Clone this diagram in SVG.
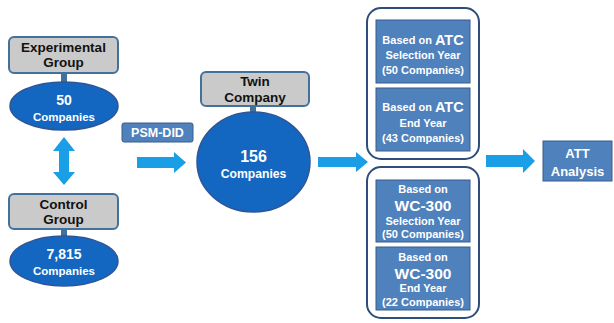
<svg xmlns="http://www.w3.org/2000/svg" width="614" height="323" viewBox="0 0 614 323">
<style>
text{font-family:"Liberation Sans",Arial,sans-serif;font-weight:bold;text-anchor:middle;dominant-baseline:central}
.gray{fill:#cacaca;stroke:#41719c;stroke-width:2}
.stub{fill:#41719c}
.ell{fill:#1467c0;stroke:#2f5597;stroke-width:1.5}
.cont{fill:#fff;stroke:#2e4d7b;stroke-width:2}
.box{fill:#4f81bd;stroke:#385d8a;stroke-width:1}
.arr{fill:#1a9fe6}
.dk{fill:#111}
.wt{fill:#fff}
</style>
<rect width="614" height="323" fill="#fff"/>
<g id="connectors">
<polygon class="arr" points="64,137 75,151 69,151 69,172 75,172 64,185 53,172 59,172 59,151 53,151"/>
<polygon class="arr" points="137,157 174,157 174,152 186,162.5 174,173 174,168 137,168"/>
<polygon class="arr" points="318,157 356,157 356,152 368,162 356,172 356,167 318,167"/>
<polygon class="arr" points="486,155 523,155 523,149 535,161 523,173 523,167 486,167"/>
</g>
<g id="experimental">
<rect class="stub" x="61" y="72" width="6" height="12"/>
<rect class="gray" x="9" y="37" width="109" height="36" rx="5"/>
<text class="dk" x="63.5" y="47.3" font-size="13.5">Experimental</text>
<text class="dk" x="63.5" y="62.8" font-size="13.5">Group</text>
<ellipse class="ell" cx="64" cy="106" rx="54" ry="24"/>
<text class="wt" x="64" y="100" font-size="14">50</text>
<text class="wt" x="64" y="117" font-size="11.5">Companies</text>
</g>
<g id="control">
<rect class="stub" x="61" y="228" width="6" height="10"/>
<rect class="gray" x="9" y="194" width="109" height="35" rx="5"/>
<text class="dk" x="63.5" y="204" font-size="13.5">Control</text>
<text class="dk" x="63.5" y="219.5" font-size="13.5">Group</text>
<ellipse class="ell" cx="64" cy="261" rx="54" ry="25"/>
<text class="wt" x="64" y="254" font-size="14">7,815</text>
<text class="wt" x="64" y="271" font-size="11.5">Companies</text>
</g>
<g id="psm">
<rect class="box" x="122" y="123" width="71" height="19" rx="2"/>
<text class="wt" x="157.5" y="132.5" font-size="12.5">PSM-DID</text>
</g>
<g id="twin">
<rect class="stub" x="250" y="105" width="6" height="10"/>
<rect class="gray" x="201" y="72" width="108" height="34" rx="5"/>
<text class="dk" x="255" y="81.5" font-size="13.5">Twin</text>
<text class="dk" x="255" y="97" font-size="13.5">Company</text>
<ellipse class="ell" cx="253.5" cy="162" rx="56.5" ry="50"/>
<text class="wt" x="253.5" y="156" font-size="16">156</text>
<text class="wt" x="253.5" y="174" font-size="12.2">Companies</text>
</g>
<g id="atc">
<rect class="cont" x="367" y="8" width="112" height="151" rx="14"/>
<rect class="box" x="376" y="20" width="94" height="63"/>
<text class="wt" x="423" y="40" font-size="11">Based on <tspan font-size="14.5">ATC</tspan></text>
<text class="wt" x="423" y="55" font-size="11">Selection Year</text>
<text class="wt" x="423" y="70" font-size="11">(50 Companies)</text>
<rect class="box" x="376" y="88" width="94" height="63"/>
<text class="wt" x="423" y="107" font-size="11">Based on <tspan font-size="14.5">ATC</tspan></text>
<text class="wt" x="423" y="123" font-size="11">End Year</text>
<text class="wt" x="423" y="137.5" font-size="11">(43 Companies)</text>
</g>
<g id="wc300">
<rect class="cont" x="367" y="167" width="112" height="151" rx="14"/>
<rect class="box" x="376" y="180" width="94" height="62"/>
<text class="wt" x="423" y="189" font-size="11">Based on</text>
<text class="wt" x="423" y="205" font-size="15.5">WC-300</text>
<text class="wt" x="423" y="221" font-size="11">Selection Year</text>
<text class="wt" x="423" y="234" font-size="11">(50 Companies)</text>
<rect class="box" x="376" y="247" width="94" height="63"/>
<text class="wt" x="423" y="257" font-size="11">Based on</text>
<text class="wt" x="423" y="273" font-size="15.5">WC-300</text>
<text class="wt" x="423" y="288" font-size="11">End Year</text>
<text class="wt" x="423" y="302" font-size="11">(22 Companies)</text>
</g>
<g id="att">
<rect class="box" x="543" y="141" width="69" height="40"/>
<text class="wt" x="577.5" y="153" font-size="13">ATT</text>
<text class="wt" x="577.5" y="171.5" font-size="13">Analysis</text>
</g>
</svg>
